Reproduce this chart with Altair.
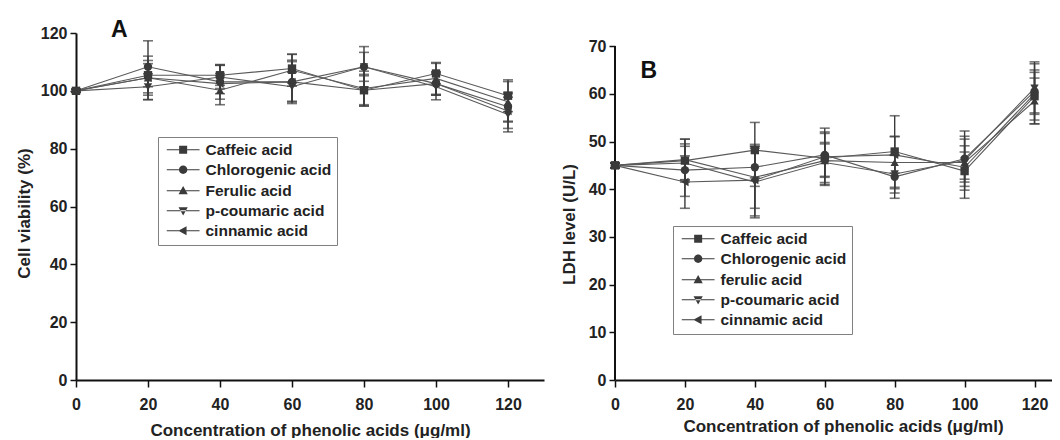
import altair as alt
import pandas as pd

FONT = "Liberation Sans"

conc = [0, 20, 40, 60, 80, 100, 120]

# ---------- Panel A: cell viability (%) ----------
acids_a = ["Caffeic acid", "Chlorogenic acid", "Ferulic acid", "p-coumaric acid", "cinnamic acid"]
a_caffeic = [100, 105.4, 105.4, 107.7, 100.2, 106.0, 98.3]
a_chlorogenic = [100, 108.3, 103.1, 103.1, 108.3, 102.5, 94.5]
a_ferulic = [100, 104.5, 100.2, 107.1, 100.8, 104.3, 96.2]
a_coumaric = [100, 101.4, 104.8, 101.4, 108.3, 101.4, 91.8]
a_cinnamic = [100, 104.5, 102.5, 103.1, 100.2, 102.5, 93.0]
a_err_caffeic = [0.5, 4.0, 3.5, 5.0, 5.0, 3.5, 5.5]
a_err_chlorogenic = [0.5, 9.0, 6.0, 7.5, 7.0, 4.0, 5.0]
a_err_ferulic = [0.5, 7.5, 5.0, 5.5, 6.0, 5.5, 7.0]
a_err_coumaric = [0.5, 4.5, 4.0, 5.0, 5.0, 4.5, 6.0]
a_err_cinnamic = [0.5, 6.0, 3.5, 7.0, 5.5, 4.0, 6.0]

# ---------- Panel B: LDH level (U/L) ----------
acids_b = ["Caffeic acid", "Chlorogenic acid", "ferulic acid", "p-coumaric acid", "cinnamic acid"]
b_caffeic = [45, 46.0, 48.2, 46.5, 47.9, 43.8, 59.5]
b_chlorogenic = [45, 44.0, 44.6, 47.2, 42.6, 46.4, 60.5]
b_ferulic = [45, 46.2, 42.5, 46.0, 45.6, 45.6, 58.5]
b_coumaric = [45, 45.5, 41.5, 45.6, 43.2, 46.0, 61.2]
b_cinnamic = [45, 41.5, 41.9, 46.8, 47.2, 44.6, 60.0]
b_err_caffeic = [0.5, 4.5, 5.8, 5.5, 7.5, 4.0, 5.0]
b_err_chlorogenic = [0.5, 5.5, 4.0, 4.5, 4.5, 5.8, 4.5]
b_err_ferulic = [0.5, 4.3, 6.5, 3.5, 5.5, 3.5, 4.8]
b_err_coumaric = [0.5, 3.5, 7.5, 4.2, 4.0, 4.5, 5.5]
b_err_cinnamic = [0.5, 5.5, 7.5, 6.0, 3.8, 6.5, 6.3]

shapes = ["square", "circle", "triangle-up", "triangle-down", "triangle-left"]
# legend glyphs: a thin bar (the line) with the marker on its middle, fill only
LEG_LINE = "M-1,-0.14H7.2V0.14H-1Z"
legend_paths = [
    LEG_LINE + "M2.1,-1H4.1V1H2.1Z",
    LEG_LINE + "M4.15,0A1.05,1.05,0,1,1,2.05,0A1.05,1.05,0,1,1,4.15,0Z",
    LEG_LINE + "M3.1,-1.2L4.25,0.85H1.95Z",
    LEG_LINE + "M3.1,1.2L4.25,-0.85H1.95Z",
    LEG_LINE + "M1.9,0L3.95,-1.15V1.15Z",
]


def frame(names, vals, errs):
    rows = []
    for name, v, e in zip(names, vals, errs):
        for c, vi, ei in zip(conc, v, e):
            rows.append({"conc": c, "acid": name, "val": vi, "lo": vi - ei, "hi": vi + ei})
    return pd.DataFrame(rows)


df_a = frame(acids_a, [a_caffeic, a_chlorogenic, a_ferulic, a_coumaric, a_cinnamic],
             [a_err_caffeic, a_err_chlorogenic, a_err_ferulic, a_err_coumaric, a_err_cinnamic])
df_b = frame(acids_b, [b_caffeic, b_chlorogenic, b_ferulic, b_coumaric, b_cinnamic],
             [b_err_caffeic, b_err_chlorogenic, b_err_ferulic, b_err_coumaric, b_err_cinnamic])

LINE = "#5a5a5a"
MARK = "#3a3a3a"


def panel(df, names, xmax, ymax, yvals, ymajor, ytitle, ytx, yty, xtx, xty, lx, ly, letter, ldx, ldy,
          width, height, ydomain_line, ytop):
    xscale = alt.Scale(domain=[0, xmax], nice=False, zero=False)
    yscale = alt.Scale(domain=[0, ymax], nice=False, zero=False)
    xvals = list(range(0, int(xmax) + 1, 10))
    xaxis = alt.Axis(
        values=xvals,
        labelExpr="datum.value % 20 === 0 && datum.value <= 120 ? datum.label : ''",
        tickSize={"condition": {"test": "datum.value % 20 === 0", "value": 7}, "value": 4},
        labelPadding=9,
        title="Concentration of phenolic acids (\u03bcg/ml)",
        titleX=xtx, titleY=xty, titleAlign="center", titleBaseline="middle",
    )
    yaxis = alt.Axis(
        values=yvals,
        labelExpr=f"datum.value % {ymajor} === 0 ? datum.label : ''",
        tickSize={"condition": {"test": f"datum.value % {ymajor} === 0", "value": 6}, "value": 3},
        labelPadding=3,
        title=ytitle, titleX=ytx, titleY=yty, titleAngle=-90,
        titleAlign="center", titleBaseline="bottom",
        domain=ydomain_line,
    )
    x = alt.X("conc:Q", scale=xscale, axis=xaxis)
    base = alt.Chart(df)
    lines = base.mark_line(color=LINE, strokeWidth=1.1).encode(
        x=x, y=alt.Y("val:Q", scale=yscale, axis=yaxis), detail="acid:N")
    bars = base.mark_rule(color=MARK, strokeWidth=1.4).encode(
        x="conc:Q", y=alt.Y("lo:Q", scale=yscale), y2="hi:Q")
    cap_hi = base.mark_tick(color=MARK, orient="horizontal", size=10, thickness=1.6).encode(
        x="conc:Q", y=alt.Y("hi:Q", scale=yscale))
    cap_lo = base.mark_tick(color=MARK, orient="horizontal", size=10, thickness=1.6).encode(
        x="conc:Q", y=alt.Y("lo:Q", scale=yscale))
    pts = base.mark_point(filled=True, size=70, color=MARK, opacity=1).encode(
        x="conc:Q", y=alt.Y("val:Q", scale=yscale),
        shape=alt.Shape("acid:N", scale=alt.Scale(domain=names, range=shapes), legend=None))
    leg = base.transform_filter("datum.conc < 0").mark_point(
        filled=True, color=MARK, size=64, opacity=1).encode(
        x="conc:Q", y=alt.Y("val:Q", scale=yscale),
        shape=alt.Shape("acid:N", scale=alt.Scale(domain=names, range=legend_paths),
                        legend=alt.Legend(
                            title=None, orient="none", legendX=lx, legendY=ly,
                            strokeColor="#808080", padding=5, rowPadding=3,
                            labelFont=FONT, labelFontSize=15.5, labelFontWeight="bold",
                            labelColor="#222222", labelOffset=27,
                            symbolFillColor=MARK, symbolSize=64, symbolOpacity=1)))
    lab = alt.Chart(pd.DataFrame({"t": [letter]})).mark_text(
        font=FONT, fontSize=23, fontWeight="bold", color="#111111").encode(
        x=alt.datum(ldx, scale=xscale), y=alt.datum(ldy, scale=yscale), text="t:N")
    layers = [lines, bars, cap_hi, cap_lo, pts, leg, lab]
    if not ydomain_line:
        rule = alt.Chart(pd.DataFrame({"y0": [0], "y1": [ytop]})).mark_rule(
            color="#111111", strokeWidth=2).encode(
            x=alt.value(0), y=alt.Y("y0:Q", scale=yscale), y2="y1:Q")
        layers.insert(0, rule)
    return alt.layer(*layers).resolve_scale(shape="independent").properties(width=width, height=height)


chart_a = panel(df_a, acids_a, 130, 120, list(range(0, 121, 10)), 20, "Cell viability (%)",
                -43, 180, 234, 50, 82, 104, "A", 12, 121, 468, 347, True, 120)
chart_b = panel(df_b, acids_b, 125, 72.75, list(range(0, 71, 5)), 10, "LDH level (U/L)",
                -37, 191, 228, 46, 58, 193, "B", 9.7, 64.8, 437, 347, False, 70)

chart = alt.hconcat(chart_a, chart_b, spacing=16).properties(
    padding={"left": 7, "top": 11, "right": 0, "bottom": 0}
).configure_view(stroke=None).configure_axis(
    labelFont=FONT, labelFontSize=16, labelFontWeight="bold", labelColor="#222222",
    titleFont=FONT, titleFontSize=17, titleFontWeight="bold", titleColor="#222222",
    domainColor="#111111", domainWidth=2, tickColor="#111111", tickWidth=1.5,
    grid=False, labelFlush=False, labelOverlap=False,
)

chart.save("out.html", embed_options={"renderer": "svg", "actions": False})
